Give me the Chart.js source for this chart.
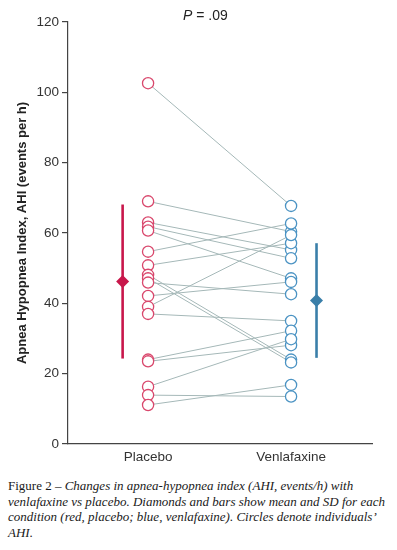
<!DOCTYPE html>
<html>
<head>
<meta charset="utf-8">
<script src="https://cdn.jsdelivr.net/npm/chart.js@4/dist/chart.umd.min.js"></script>
<style>
  body { margin: 0; background: #fff; }
  #wrap { position: relative; width: 397px; height: 470px; }
  #pval { position: absolute; left: 183px; top: 7px; font: 14px "Liberation Sans", Arial, sans-serif; color: #222; }
  .caption { margin: 8px 0 0 8px; font-family: "Liberation Serif", "DejaVu Serif", serif; font-size: 13px; line-height: 15.7px; color: #1a1a1a; white-space: nowrap; }
</style>
</head>
<body>
<div id="wrap">
  <canvas id="chart"></canvas>
  <div id="pval"><i>P</i> = .09</div>
</div>
<div class="caption">Figure 2 – <i>Changes in apnea-hypopnea index (AHI, events/h) with<br>venlafaxine vs placebo. Diamonds and bars show mean and SD for each<br>condition (red, placebo; blue, venlafaxine). Circles denote individuals’<br>AHI.</i></div>
<script>
(function () {
  'use strict';

  // ── Data ────────────────────────────────────────────────
  var CONDITIONS = ['Placebo', 'Venlafaxine'];
  var Y_TICKS    = [0, 20, 40, 60, 80, 100, 120];

  // paired per individual (same index = same person)
  var placeboAHI     = [102.6, 69.0, 63.0, 61.8, 60.7, 54.7, 50.8, 48.1, 47.1, 45.9, 42.1, 39.0, 37.0, 24.0, 23.5, 16.3, 13.9, 11.1];
  var venlafaxineAHI = [ 67.7, 60.4, 55.2, 52.8, 47.1, 62.7, 57.1, 24.0, 23.2, 42.6, 46.1, 59.4, 35.0, 32.2, 28.1, 29.8, 13.5, 16.8];

  var placeboMeanSD     = [46.2, 21.9];
  var venlafaxineMeanSD = [40.8, 16.3];

  var RED      = '#d9476c';
  var RED_DARK = '#c8174b';
  var BLUE     = '#4b93c3';
  var BLUE_DARK= '#3a7fa9';
  var LINK     = '#a5b8b8';
  var AXIS     = '#444';

  var MEAN_SHIFT = 0.178;

  Chart.defaults.font = { family: '"Liberation Sans", Arial, sans-serif', size: 13.5 };
  Chart.defaults.color = '#333';

  // ── Datasets ────────────────────────────────────────────
  var links = placeboAHI.map(function (p, i) {
    return {
      type: 'line',
      data: [{ x: 1, y: p }, { x: 2, y: venlafaxineAHI[i] }],
      borderColor: LINK, borderWidth: 1, pointRadius: 0, order: 5
    };
  });

  function circles(values, x, color) {
    return {
      type: 'scatter',
      data: values.map(function (v) { return { x: x, y: v }; }),
      pointStyle: 'circle', pointRadius: 5.6, pointBorderWidth: 1.3,
      borderColor: color, backgroundColor: '#fff', order: 2
    };
  }

  function sdBar(ms, x, color) {
    return {
      type: 'line',
      data: [{ x: x, y: ms[0] - ms[1] }, { x: x, y: ms[0] + ms[1] }],
      borderColor: color, borderWidth: 2.6, pointRadius: 0, order: 1
    };
  }

  function diamond(ms, x, color) {
    return {
      type: 'scatter',
      data: [{ x: x, y: ms[0] }],
      pointStyle: 'rectRot', pointRadius: 6.5, pointBorderWidth: 0,
      backgroundColor: color, borderColor: color, order: 0
    };
  }

  var datasets = links.concat([
    circles(placeboAHI, 1, RED),
    circles(venlafaxineAHI, 2, BLUE),
    sdBar(placeboMeanSD, 1 - MEAN_SHIFT, RED_DARK),
    sdBar(venlafaxineMeanSD, 2 + MEAN_SHIFT, BLUE_DARK),
    diamond(placeboMeanSD, 1 - MEAN_SHIFT, RED_DARK),
    diamond(venlafaxineMeanSD, 2 + MEAN_SHIFT, BLUE_DARK)
  ]);

  // ── Chart ───────────────────────────────────────────────
  new Chart(document.getElementById('chart'), {
    type: 'scatter',
    data: { datasets: datasets },
    options: {
      responsive: true,
      maintainAspectRatio: false,
      animation: false,
      layout: { padding: { top: 22, right: 25, left: 0, bottom: 0 } },
      plugins: { legend: { display: false }, tooltip: { enabled: false } },
      scales: {
        x: {
          type: 'linear', min: 0.44, max: 2.566,
          afterBuildTicks: function (s) { s.ticks = [{ value: 1 }, { value: 2 }]; },
          afterFit: function (s) { s.height = 26; },
          ticks: {
            padding: -3, color: '#333',
            callback: function (v) { return CONDITIONS[v - 1]; }
          },
          grid: { display: false },
          border: { display: true, color: AXIS, width: 1.2 }
        },
        y: {
          min: 0, max: 120,
          afterBuildTicks: function (s) { s.ticks = Y_TICKS.map(function (v) { return { value: v }; }); },
          afterFit: function (s) { s.width = 68; },
          ticks: { padding: 3, color: '#333' },
          grid: { drawOnChartArea: false, drawTicks: true, tickLength: 6, color: AXIS, lineWidth: 1.2 },
          border: { display: true, color: AXIS, width: 1.2 },
          title: {
            display: true,
            text: 'Apnea Hypopnea Index, AHI (events per h)',
            color: '#222',
            font: { weight: 'bold', size: 13 },
            padding: { top: 15, bottom: 0 }
          }
        }
      }
    }
  });
}());
</script>
</body>
</html>
